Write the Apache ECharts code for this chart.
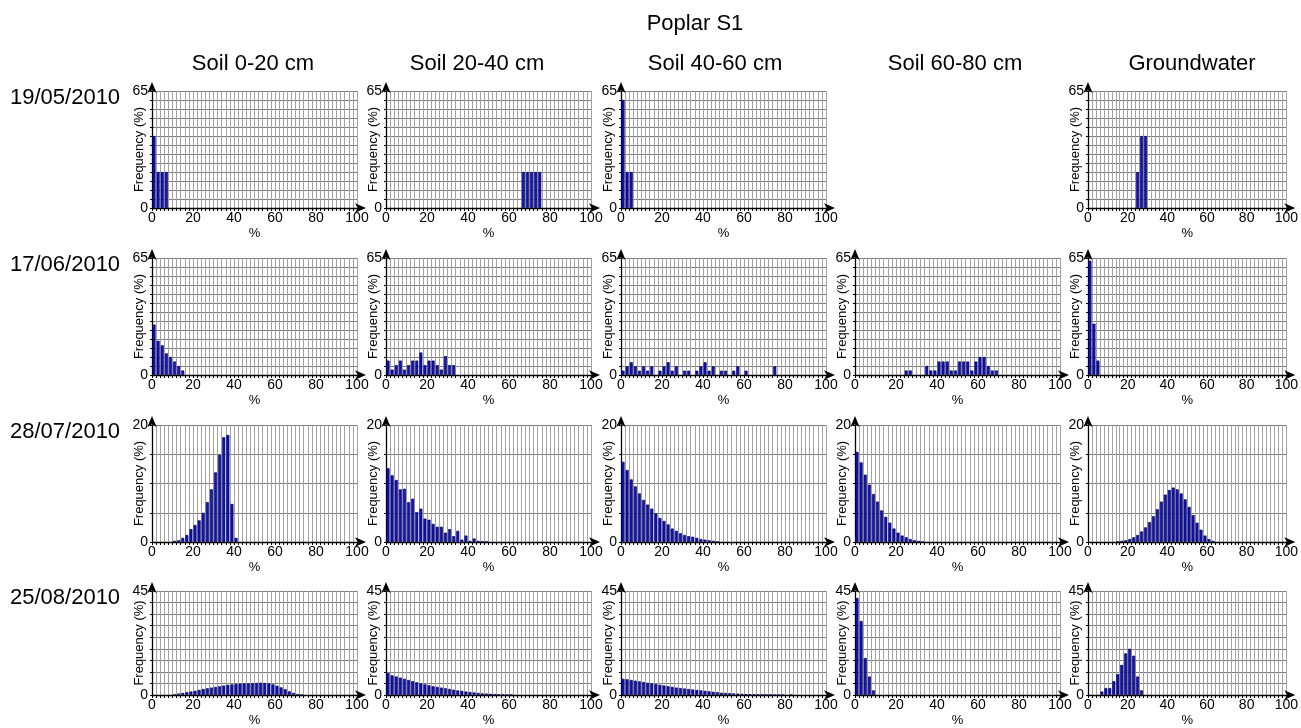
<!DOCTYPE html>
<html>
<head>
<meta charset="utf-8">
<script src="https://cdn.jsdelivr.net/npm/echarts@6/dist/echarts.min.js"></script>
<style>
  html, body { margin: 0; padding: 0; background: #fff; }
  #chart { width: 1301px; height: 728px; }
</style>
</head>
<body>
<div id="chart"></div>
<script>
(function () {
    // bin centres of the histograms (% classes of width 2)
    const binCenters = [1, 3, 5, 7, 9, 11, 13, 15, 17, 19, 21, 23, 25, 27, 29, 31, 33, 35, 37, 39,
        41, 43, 45, 47, 49, 51, 53, 55, 57, 59, 61, 63, 65, 67, 69, 71, 73, 75, 77, 79,
        81, 83, 85, 87, 89, 91, 93, 95, 97, 99];

    const depths = ['Soil 0-20 cm', 'Soil 20-40 cm', 'Soil 40-60 cm', 'Soil 60-80 cm', 'Groundwater'];
    const dates = ['19/05/2010', '17/06/2010', '28/07/2010', '25/08/2010'];
    const yMaxByDate = [65, 65, 20, 45];
    const xTicks = [0, 20, 40, 60, 80, 100];

    // frequency (%) per bin, aligned with binCenters
    const may19 = [
        [40, 20, 20, 20],
        [0, 0, 0, 0, 0, 0, 0, 0, 0, 0, 0, 0, 0, 0, 0, 0, 0, 0, 0, 0, 0, 0, 0, 0, 0, 0, 0, 0, 0, 0, 0, 0, 0, 20, 20, 20, 20, 20],
        [60, 20, 20],
        null,
        [0, 0, 0, 0, 0, 0, 0, 0, 0, 0, 0, 0, 20, 40, 40]
    ];
    const jun17 = [
        [28, 19, 16.5, 12, 10, 7.5, 5, 2.5],
        [8, 3, 5.5, 8, 3, 5.5, 8, 8, 12.5, 5.5, 8, 8, 5.5, 3, 10.5, 5.5, 5.5],
        [2.4, 4.8, 7.1, 4.8, 2.4, 4.8, 2.4, 4.8, 0, 2.4, 4.8, 7.1, 2.4, 4.8, 0, 2.4, 2.4, 0, 2.4, 4.8,
            7.1, 2.4, 4.8, 0, 2.4, 2.4, 0, 2.4, 4.8, 0, 2.4, 0, 0, 0, 0, 0, 0, 4.8],
        [0, 0, 0, 0, 0, 0, 0, 0, 0, 0, 0, 0, 2.5, 2.5, 0, 0, 0, 5, 2.5, 2.5,
            7.5, 7.5, 7.5, 2.5, 2.5, 7.5, 7.5, 7.5, 2.5, 7.5, 10, 10, 5, 2.5, 2.5],
        [63.5, 28.5, 8]
    ];
    const jul28 = [
        [0, 0, 0, 0, 0, 0.2, 0.3, 0.7, 1.2, 2.2, 2.9, 3.7, 5.0, 6.8, 9.0, 11.9, 14.9, 17.9, 18.3, 6.5, 0.7],
        [12.6, 11.4, 10.6, 9.0, 9.1, 6.8, 7.4, 5.1, 5.7, 4.0, 3.8, 3.1, 2.6, 2.6, 1.6, 2.2, 1.0, 1.9, 0.4, 1.1,
            0.2, 0.6, 0.2, 0.15, 0.1],
        [13.7, 12.3, 10.7, 9.5, 8.3, 7.2, 6.4, 5.7, 4.9, 4.1, 3.6, 3.0, 2.3, 1.9, 1.5, 1.2, 1.0, 0.9, 0.7, 0.5,
            0.4, 0.3, 0.2, 0.1],
        [15.4, 13.6, 11.5, 9.8, 8.2, 6.9, 5.4, 4.3, 3.3, 2.3, 1.6, 1.1, 0.8, 0.5, 0.3, 0.2, 0.1],
        [0, 0, 0, 0, 0, 0, 0, 0.1, 0.2, 0.3, 0.5, 0.8, 1.2, 1.8, 2.5, 3.4, 4.4, 5.6, 6.9, 8.1,
            8.9, 9.3, 9.0, 8.3, 7.3, 6.0, 4.6, 3.3, 2.1, 1.1, 0.5, 0.2]
    ];
    const aug25 = [
        [0, 0, 0, 0, 0, 0.3, 0.6, 0.9, 1.2, 1.5, 1.8, 2.2, 2.6, 2.9, 3.2, 3.5, 3.8, 4.1, 4.4, 4.6,
            4.8, 4.9, 5.0, 5.0, 5.1, 5.2, 5.3, 5.2, 5.0, 4.6, 4.0, 3.3, 2.5, 1.6, 0.9, 0.4, 0.1],
        [9.5, 8.5, 8.0, 7.5, 7.0, 6.5, 6.0, 5.5, 5.0, 4.6, 4.2, 3.8, 3.5, 3.2, 2.9, 2.6, 2.3, 2.0, 1.8, 1.5,
            1.3, 1.1, 0.9, 0.7, 0.6, 0.5, 0.4, 0.3, 0.2, 0.2, 0.1],
        [7.0, 6.8, 6.5, 6.2, 5.9, 5.6, 5.3, 5.0, 4.7, 4.4, 4.1, 3.8, 3.5, 3.2, 3.0, 2.8, 2.6, 2.4, 2.2, 2.0,
            1.8, 1.6, 1.4, 1.2, 1.0, 0.9, 0.8, 0.7, 0.6, 0.5, 0.4, 0.35, 0.3, 0.25, 0.2, 0.2, 0.15, 0.1, 0.1, 0.1,
            0, 0.1],
        [42, 32, 16, 8, 2],
        [0, 0, 0, 1.5, 3, 3, 6, 9, 13, 18, 20, 17, 8, 2]
    ];
    const allData = [may19, jun17, jul28, aug25];

    // panel placement (px)
    const colLeft = [152, 386, 621, 855, 1088];
    const rowTop = [91, 258, 425, 591];
    const panelW = 205;
    const panelH = 117;
    const headerX = [253, 477, 715, 955, 1192];

    const font = 'Liberation Sans, Arial, sans-serif';

    let grid = [], xAxis = [], yAxis = [], series = [];
    let title = [{
        text: 'Poplar S1', left: 695, top: 13, textAlign: 'center', padding: 0,
        textStyle: { fontSize: 22, fontWeight: 'normal', color: '#000', fontFamily: font }
    }];
    depths.forEach(function (d, c) {
        title.push({
            text: d, left: headerX[c], top: 53, textAlign: 'center', padding: 0,
            textStyle: { fontSize: 22, fontWeight: 'normal', color: '#000', fontFamily: font }
        });
    });
    dates.forEach(function (d, r) {
        title.push({
            text: d, left: 10, top: rowTop[r] - 4, padding: 0,
            textStyle: { fontSize: 22, fontWeight: 'normal', color: '#000', fontFamily: font }
        });
    });

    allData.forEach(function (row, r) {
        row.forEach(function (vals, c) {
            if (!vals) return;
            const idx = grid.length;
            const yMax = yMaxByDate[r];
            grid.push({ left: colLeft[c], top: rowTop[r], width: panelW, height: panelH });
            xAxis.push({
                gridIndex: idx, type: 'value', min: 0, max: 100, interval: 20,
                name: '%', nameLocation: 'middle', nameGap: 19, nameMoveOverlap: false,
                nameTextStyle: { fontSize: 13, color: '#000', fontFamily: font },
                axisLine: {
                    show: true, symbol: ['none', 'arrow'], symbolSize: [7, 11], symbolOffset: [0, 9],
                    lineStyle: { color: '#000', width: 1.3 }
                },
                axisTick: { show: true, length: 3, lineStyle: { color: '#000' } },
                minorTick: { show: true, splitNumber: 10, length: 3, lineStyle: { color: '#000' } },
                splitLine: { show: true, lineStyle: { color: '#a3a3a3', width: 1 } },
                minorSplitLine: { show: true, lineStyle: { color: '#a3a3a3', width: 1 } },
                axisLabel: {
                    fontSize: 14, color: '#000', margin: 3, fontFamily: font,
                    formatter: function (v) { return xTicks.indexOf(v) >= 0 ? String(v) : ''; }
                }
            });
            yAxis.push({
                gridIndex: idx, type: 'value', min: 0, max: yMax, interval: 5,
                name: 'Frequency (%)', nameLocation: 'middle', nameGap: 6, nameMoveOverlap: false,
                nameTextStyle: { fontSize: 13, color: '#000', fontFamily: font },
                axisLine: {
                    show: true, symbol: ['none', 'arrow'], symbolSize: [7, 11], symbolOffset: [0, 9],
                    lineStyle: { color: '#000', width: 1.3 }
                },
                axisTick: { show: true, length: 2, lineStyle: { color: '#000' } },
                splitLine: { show: true, lineStyle: { color: '#7c7c7c', width: 1 } },
                axisLabel: {
                    fontSize: 14, color: '#000', margin: 4, fontFamily: font,
                    formatter: function (v) { return (v === 0 || v === yMax) ? String(v) : ''; }
                }
            });
            series.push({
                type: 'bar', xAxisIndex: idx, yAxisIndex: idx,
                barWidth: 3, silent: true, animation: false,
                itemStyle: { color: '#1010c4', borderColor: '#00004a', borderWidth: 0.6 },
                data: vals.map(function (v, i) { return [binCenters[i], v]; })
                    .filter(function (p) { return p[1] > 0; })
            });
        });
    });

    const option = {
        backgroundColor: '#fff',
        animation: false,
        title: title,
        grid: grid,
        xAxis: xAxis,
        yAxis: yAxis,
        series: series
    };

    const myChart = echarts.init(document.getElementById('chart'), null, { renderer: 'canvas' });
    myChart.setOption(option);
}());
</script>
</body>
</html>
